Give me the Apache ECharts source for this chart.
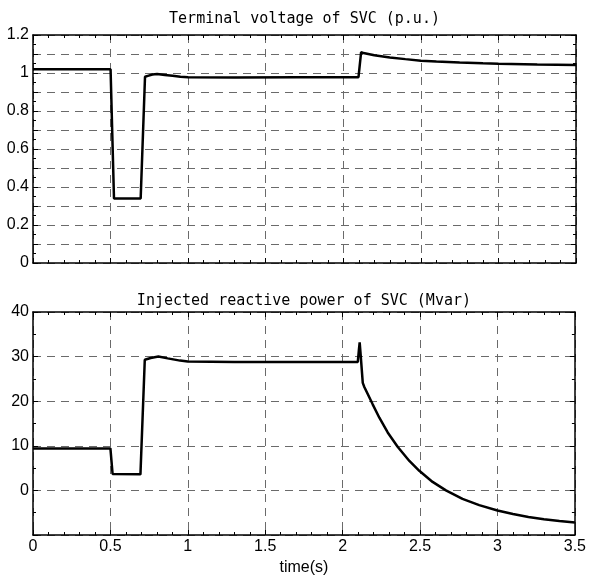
<!DOCTYPE html>
<html>
<head>
<meta charset="utf-8">
<script src="https://cdn.jsdelivr.net/npm/echarts@6/dist/echarts.min.js"></script>
<style>
html,body{margin:0;padding:0;background:#fff;}
#c{width:589px;height:577px;}
</style>
</head>
<body>
<div id="c"></div>
<script>
// Terminal voltage of SVC (p.u.)
const voltTime = [0, 0.5, 0.522, 0.694, 0.722, 0.74, 0.77, 0.80, 0.85, 0.90, 0.95, 1.0, 1.3, 1.7, 2.098, 2.115, 2.13, 2.2, 2.3, 2.4, 2.5, 2.6, 2.75, 2.9, 3.0, 3.25, 3.5];
const voltValue = [1.02, 1.02, 0.34, 0.34, 0.98, 0.985, 0.992, 0.995, 0.99, 0.985, 0.98, 0.977, 0.976, 0.977, 0.978, 1.11, 1.105, 1.093, 1.082, 1.073, 1.065, 1.06, 1.055, 1.051, 1.049, 1.045, 1.042];
// Injected reactive power of SVC (Mvar)
const qTime = [0, 0.5, 0.514, 0.52, 0.694, 0.722, 0.76, 0.81, 0.87, 0.95, 1.0, 1.3, 2.098, 2.105, 2.11, 2.115, 2.13, 2.14, 2.194, 2.237, 2.291, 2.355, 2.431, 2.495, 2.581, 2.667, 2.774, 2.882, 3.0, 3.1, 3.2, 3.3, 3.4, 3.5];
const qValue = [9.4, 9.4, 3.7, 3.6, 3.6, 29.3, 29.7, 30.0, 29.6, 29.1, 28.9, 28.8, 28.8, 31.5, 33.2, 31.0, 24.1, 23.2, 19.3, 16.3, 13.0, 9.8, 6.6, 4.4, 1.9, 0.0, -1.9, -3.3, -4.5, -5.3, -5.95, -6.45, -6.85, -7.2];
// axis ticks
const xTicks = {min: 0, max: 3.5, step: 0.5};
const voltTicks = {min: 0, max: 1.2, step: 0.1, labelStep: 0.2};
const qTicks = {min: -10, max: 40, step: 10, hidden: [-10]};
const titles = ['Terminal voltage of SVC (p.u.)', 'Injected reactive power of SVC (Mvar)'];
const xName = 'time(s)';

const pair = (t, v) => t.map((x, i) => [x, v[i]]);
const labelFont = {fontFamily: 'Liberation Sans', fontSize: 16, color: '#000'};
const titleFont = {fontFamily: 'DejaVu Sans Mono', fontSize: 15, color: '#000'};
const gridLine = {show: true, lineStyle: {color: '#6a6a6a', type: [8, 6], width: 1}};
const axLine = {show: true, onZero: false, lineStyle: {color: '#000', width: 1.5}};
const tick = {show: true, inside: true, length: 5, lineStyle: {color: '#000', width: 1}};
const mtick = (n) => ({show: true, splitNumber: n, length: 3, lineStyle: {color: '#000', width: 1}});

function xAx(grid, pos, opts) {
  return Object.assign({
    type: 'value', gridIndex: grid, position: pos,
    min: xTicks.min, max: xTicks.max, interval: xTicks.step,
    axisLine: axLine, axisTick: tick, minorTick: mtick(5),
    axisLabel: {show: false}, splitLine: {show: false}
  }, opts);
}
function yAx(grid, pos, t, opts) {
  return Object.assign({
    type: 'value', gridIndex: grid, position: pos,
    min: t.min, max: t.max, interval: t.step,
    axisLine: axLine, axisTick: tick,
    axisLabel: {show: false}, splitLine: {show: false}
  }, opts);
}

const chart = echarts.init(document.getElementById('c'), null, {renderer: 'canvas'});
chart.setOption({
  animation: false,
  backgroundColor: '#fff',
  grid: [
    {left: 33, top: 35, width: 543, height: 228},
    {left: 33, top: 312, width: 543, height: 226}
  ],
  xAxis: [
    xAx(0, 'bottom', {splitLine: gridLine}),
    xAx(0, 'top', {name: titles[0], nameLocation: 'middle', nameGap: 8, nameTextStyle: titleFont}),
    xAx(1, 'bottom', {splitLine: gridLine, axisLabel: Object.assign({show: true, margin: 4}, labelFont),
      name: xName, nameLocation: 'middle', nameGap: 25, nameTextStyle: {fontFamily: 'Liberation Sans', fontSize: 16, color: '#000'}}),
    xAx(1, 'top', {name: titles[1], nameLocation: 'middle', nameGap: 3, nameTextStyle: titleFont})
  ],
  yAxis: [
    yAx(0, 'left', voltTicks, {splitLine: gridLine, minorTick: mtick(2),
      axisLabel: Object.assign({show: true, margin: 4, formatter: v => {
        const r = Math.round(v * 10);
        return r % 2 === 0 ? String(r / 10) : '';
      }}, labelFont)}),
    yAx(0, 'right', voltTicks, {minorTick: mtick(2)}),
    yAx(1, 'left', qTicks, {splitLine: gridLine, minorTick: mtick(2),
      axisLabel: Object.assign({show: true, margin: 4, formatter: v => qTicks.hidden.includes(v) ? '' : String(v)}, labelFont)}),
    yAx(1, 'right', qTicks, {minorTick: mtick(2)})
  ],
  series: [
    {type: 'line', xAxisIndex: 0, yAxisIndex: 0, data: pair(voltTime, voltValue), showSymbol: false,
      lineStyle: {color: '#000', width: 2.5}, z: 5},
    {type: 'line', xAxisIndex: 2, yAxisIndex: 2, data: pair(qTime, qValue), showSymbol: false,
      lineStyle: {color: '#000', width: 2.5}, z: 5}
  ]
});
</script>
</body>
</html>
